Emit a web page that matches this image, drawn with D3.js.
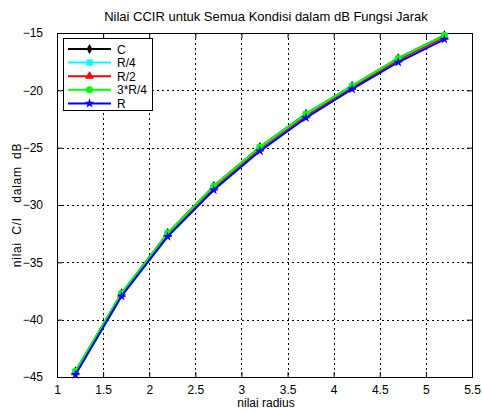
<!DOCTYPE html>
<html><head><meta charset="utf-8">
<script src="https://cdn.jsdelivr.net/npm/d3@7"></script>
<style>body{margin:0;background:#fff}svg{display:block}text{font-family:"Liberation Sans",Arial,sans-serif;}</style>
</head><body>
<svg id="c" width="482" height="412"></svg>
<script>
const radius = [1.2, 1.7, 2.2, 2.7, 3.2, 3.7, 4.2, 4.7, 5.2];
const valC   = [-44.50, -37.70, -32.45, -28.35, -24.95, -22.05, -19.60, -17.20, -15.20];
const valR4  = [-44.52, -37.72, -32.47, -28.37, -24.97, -22.07, -19.62, -17.22, -15.22];
const valR2  = [-44.62, -37.82, -32.57, -28.50, -25.10, -22.20, -19.75, -17.35, -15.35];
const val3R4 = [-44.52, -37.72, -32.47, -28.37, -24.97, -22.07, -19.62, -17.22, -15.22];
const valR   = [-44.80, -37.95, -32.75, -28.70, -25.30, -22.40, -19.90, -17.55, -15.55];
const seriesNames = ["C", "R/4", "R/2", "3*R/4", "R"];
const xTicks = [1, 1.5, 2, 2.5, 3, 3.5, 4, 4.5, 5, 5.5];
const yTicks = [-45, -40, -35, -30, -25, -20, -15];
const titleText = "Nilai CCIR untuk Semua Kondisi dalam dB Fungsi Jarak";
const xLabel = "nilai radius";
const yLabel = "nilai C/I  dalam dB";

const series = [
  {name: seriesNames[0], v: valC,   color: "#000000", marker: "diamond"},
  {name: seriesNames[1], v: valR4,  color: "#00ffff", marker: "square"},
  {name: seriesNames[2], v: valR2,  color: "#ff0000", marker: "triangle"},
  {name: seriesNames[3], v: val3R4, color: "#00ff00", marker: "circle"},
  {name: seriesNames[4], v: valR,   color: "#0000ff", marker: "star"}
];

const L = 57, R = 472, T = 33, B = 377;
const svg = d3.select("#c");
const x = d3.scaleLinear().domain([1, 5.5]).range([L, R]);
const y = d3.scaleLinear().domain([-45, -15]).range([B, T]);

// grid
const g = svg.append("g");
g.selectAll(".gx").data(xTicks.slice(1, -1)).enter().append("line")
  .attr("x1", d => Math.round(x(d)) + 0.5).attr("x2", d => Math.round(x(d)) + 0.5)
  .attr("y1", T).attr("y2", B)
  .attr("stroke", "#000").attr("stroke-width", 1).attr("stroke-dasharray", "2,3");
g.selectAll(".gy").data(yTicks.slice(1, -1)).enter().append("line")
  .attr("y1", d => Math.round(y(d)) + 0.5).attr("y2", d => Math.round(y(d)) + 0.5)
  .attr("x1", L).attr("x2", R)
  .attr("stroke", "#000").attr("stroke-width", 1).attr("stroke-dasharray", "2,3");

// axes
const fs = "12px";
const ax = svg.append("g").attr("transform", `translate(0,${B})`)
  .call(d3.axisBottom(x).tickValues(xTicks).tickSize(-5).tickPadding(8).tickFormat(d3.format("")));
const axT = svg.append("g").attr("transform", `translate(0,${T})`)
  .call(d3.axisTop(x).tickValues(xTicks).tickSize(-5).tickFormat(""));
const ay = svg.append("g").attr("transform", `translate(${L},0)`)
  .call(d3.axisLeft(y).tickValues(yTicks).tickSize(-5).tickPadding(14).tickFormat(d3.format("")));
const ayR = svg.append("g").attr("transform", `translate(${R},0)`)
  .call(d3.axisRight(y).tickValues(yTicks).tickSize(-5).tickFormat(""));
[ax, axT, ay, ayR].forEach(a => {
  a.select(".domain").remove();
  a.selectAll("text").style("font-size", fs).attr("fill", "#000");
  a.selectAll("line").attr("stroke", "#000");
});
svg.append("rect").attr("x", L + 0.5).attr("y", T + 0.5).attr("width", R - L).attr("height", B - T)
  .attr("fill", "none").attr("stroke", "#000").attr("stroke-width", 1);

function marker(sel, type, color, cx, cy) {
  const map = {diamond: [d3.symbolDiamond, 30], square: [d3.symbolSquare, 40], triangle: [d3.symbolTriangle, 36],
               circle: [d3.symbolCircle, 40], star: [d3.symbolStar, 30]};
  const m = map[type];
  sel.append("path").attr("d", d3.symbol().type(m[0]).size(m[1])()).attr("transform", `translate(${cx},${cy})`).attr("fill", color);
}

const line = d3.line().x((d, i) => x(radius[i])).y(d => y(d));
series.forEach(s => {
  const gs = svg.append("g");
  gs.append("path").datum(s.v).attr("d", line).attr("fill", "none").attr("stroke", s.color).attr("stroke-width", 2);
  s.v.forEach((v, i) => marker(gs, s.marker, s.color, x(radius[i]), y(v)));
});

// legend
const lg = svg.append("g");
const lx = 63, ly = 38, lw = 89, lh = 72;
lg.append("rect").attr("x", lx + 0.5).attr("y", ly + 0.5).attr("width", lw).attr("height", lh)
  .attr("fill", "#fff").attr("stroke", "#000");
series.forEach((s, i) => {
  const yy = ly + 11 + i * 13.6;
  lg.append("line").attr("x1", lx + 5).attr("x2", lx + 48).attr("y1", yy).attr("y2", yy)
    .attr("stroke", s.color).attr("stroke-width", 2);
  marker(lg, s.marker, s.color, lx + 26.5, yy);
  lg.append("text").attr("x", lx + 54).attr("y", yy + 4.5).text(s.name).style("font-size", fs);
});

// titles
svg.append("text").attr("x", 266).attr("y", 21).attr("text-anchor", "middle").style("font-size", "13px").text(titleText);
svg.append("text").attr("x", 266).attr("y", 407).attr("text-anchor", "middle").style("font-size", fs).text(xLabel);
svg.append("text").attr("transform", `translate(21,${(T + B) / 2}) rotate(-90)`).attr("text-anchor", "middle")
  .attr("xml:space", "preserve").style("white-space", "pre").style("font-size", fs)
  .style("letter-spacing", "0.8px").style("word-spacing", "3px").text(yLabel);
</script>
</body></html>
